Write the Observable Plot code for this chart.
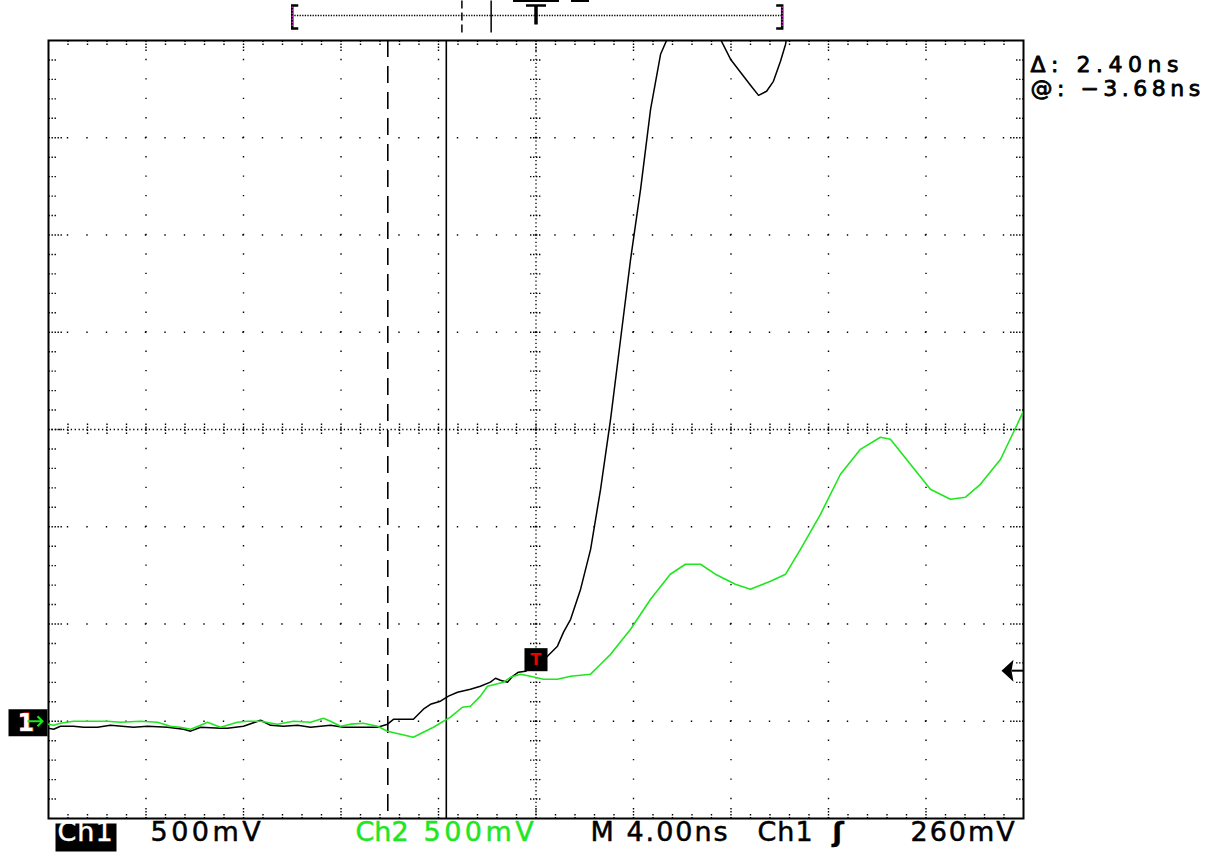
<!DOCTYPE html>
<html><head><meta charset="utf-8">
<script src="https://cdn.jsdelivr.net/npm/d3@7"></script>
<script src="https://cdn.jsdelivr.net/npm/@observablehq/plot@0.6"></script>
<style>
html,body{margin:0;padding:0;background:#fff;}
#chart svg{display:block;}
</style></head><body><div id="chart"></div>
<script>
// ---- data (time in ns, voltage in V) ----
const ch1Time = [-20,-19.79,-19.51,-18.98,-18.56,-17.99,-17.46,-16.51,-15.94,-15.12,-14.46,-14.17,-13.76,-12.94,-12.66,-12.00,-11.30,-10.89,-10.36,-9.78,-9.25,-8.43,-7.90,-7.20,-6.50,-6.09,-5.85,-5.03,-4.62,-4.33,-3.92,-3.59,-3.22,-2.69,-2.28,-1.87,-1.66,-1.46,-1.17,-0.96,-0.72,-0.43,-0.02,0.47,0.88,1.13,1.42,1.83,2.24,2.65,3.06,3.47,3.88,4.29,4.70,5.11,5.39,6.0,7.0,7.57,7.98,8.39,8.80,9.13,9.46,9.74,10.03,10.24,10.6];
const ch1Volt = [-0.036,-0.041,-0.026,-0.026,-0.031,-0.031,-0.021,-0.031,-0.026,-0.031,-0.041,-0.051,-0.031,-0.036,-0.036,-0.026,0.005,-0.021,-0.026,-0.021,-0.031,-0.021,-0.031,-0.031,-0.031,-0.015,0.010,0.010,0.062,0.087,0.103,0.129,0.149,0.165,0.180,0.201,0.221,0.211,0.201,0.231,0.252,0.257,0.293,0.334,0.386,0.458,0.524,0.679,0.884,1.193,1.553,1.964,2.375,2.735,3.146,3.429,3.51,3.9,3.9,3.506,3.404,3.337,3.270,3.218,3.239,3.290,3.393,3.481,3.8];
const ch2Time = [-20,-19.79,-19.51,-18.98,-17.58,-17.05,-16.23,-15.53,-15.00,-14.59,-14.17,-13.76,-13.48,-12.94,-12.25,-11.84,-11.30,-10.61,-9.95,-9.25,-8.72,-8.43,-8.02,-7.61,-7.08,-6.50,-6.09,-5.56,-5.03,-4.21,-3.51,-3.02,-2.69,-2.28,-1.99,-1.33,-1.05,-0.64,-0.23,0.31,0.88,1.42,2.24,2.65,3.06,3.88,4.70,5.51,6.13,6.75,7.36,8.18,8.79,9.62,10.24,10.85,11.67,12.49,13.31,14.13,14.54,15.36,16.18,17.00,17.62,18.23,19.06,20.0];
const ch2Volt = [-0.015,-0.021,-0.010,0.000,0.000,-0.005,0.000,-0.005,-0.026,-0.031,-0.041,-0.021,-0.005,-0.031,-0.005,0.000,0.000,-0.015,0.000,-0.005,0.015,0.000,-0.026,-0.015,-0.010,-0.026,-0.051,-0.067,-0.082,-0.031,0.021,0.072,0.077,0.129,0.180,0.201,0.226,0.242,0.231,0.216,0.216,0.231,0.242,0.293,0.344,0.473,0.627,0.756,0.807,0.807,0.756,0.704,0.679,0.720,0.756,0.884,1.064,1.270,1.398,1.460,1.450,1.321,1.193,1.141,1.152,1.218,1.347,1.594];
const cursorTimes = [-6.08, -3.68];          // dashed, solid
const triggerLevel = 0.26;                   // V
const groundLevel = 0;                       // V
const timeDomain = [-20, 20];                // 4.00 ns/div, 10 div
const voltDomain = [-0.5, 3.5];              // 500 mV/div, 8 div
const nsPerDiv = 4, vPerDiv = 0.5;
const centerTime = 0, centerVolt = 1.5;
const readoutLines = ["Δ: 2.40ns", "@: −3.68ns"];
const ch1Label = "Ch1", ch1Scale = "500mV";
const ch2Label = "Ch2", ch2Scale = "500mV";
const timebaseLabel = "M 4.00ns";
const trigSourceLabel = "Ch1", trigSlopeLabel = "ʃ", trigLevelLabel = "260mV";
const groundMarkerLabel = "1";
const recordSpan = [-20, 20.2];              // overview bracket (ns)

// ---- derived tables ----
const ch1 = ch1Time.map((t, i) => ({t, v: ch1Volt[i]}));
const ch2 = ch2Time.map((t, i) => ({t, v: ch2Volt[i]}));
const majorX = d3.range(timeDomain[0] + nsPerDiv, timeDomain[1], nsPerDiv).filter(t => Math.abs(t - centerTime) > 1e-6);
const majorY = d3.range(voltDomain[0] + vPerDiv, voltDomain[1], vPerDiv).filter(v => Math.abs(v - centerVolt) > 1e-6);
const minorX = d3.range(1, 50).map(k => timeDomain[0] + k * nsPerDiv / 5);
const minorY = d3.range(1, 40).map(k => voltDomain[0] + k * vPerDiv / 5);
const isMajorX = t => Math.abs(Math.round(t / nsPerDiv) * nsPerDiv - t) < 1e-6;
const isMajorY = v => Math.abs(Math.round((v - voltDomain[0]) / vPerDiv) * vPerDiv - (v - voltDomain[0])) < 1e-6;
const minorOnlyX = minorX.filter(t => !isMajorX(t)), majorOnX = minorX.filter(isMajorX);
const minorOnlyY = minorY.filter(v => !isMajorY(v)), majorOnY = minorY.filter(isMajorY);
const overview = t => t / 2;

const GREEN = "#1fe61f";
const seg = (x1, y1, x2, y2) => ({draw(c) { c.moveTo(x1, y1); c.lineTo(x2, y2); }});
const path = (pts, close) => ({draw(c) { c.moveTo(...pts[0]); pts.slice(1).forEach(p => c.lineTo(...p)); if (close) c.closePath(); }});
const rect = (x, y, w, h) => ({draw(c) { c.rect(x, y, w, h); }});
const tickStyle = {fill: "none", stroke: "#000", strokeWidth: 1.4, strokeDasharray: "1.4,1.6"};
const edgeTicks = [
  Plot.dot(minorOnlyX, {x: d => d, frameAnchor: "top", symbol: seg(0, 0, 0, 6), ...tickStyle}),
  Plot.dot(majorOnX, {x: d => d, frameAnchor: "top", symbol: seg(0, 0, 0, 12), ...tickStyle}),
  Plot.dot(minorOnlyX, {x: d => d, frameAnchor: "bottom", symbol: seg(0, 0, 0, -6), ...tickStyle}),
  Plot.dot(majorOnX, {x: d => d, frameAnchor: "bottom", symbol: seg(0, 0, 0, -12), ...tickStyle}),
  Plot.dot(minorOnlyY, {y: d => d, frameAnchor: "left", symbol: seg(0, 0, 8, 0), ...tickStyle}),
  Plot.dot(majorOnY, {y: d => d, frameAnchor: "left", symbol: seg(0, 0, 14, 0), ...tickStyle}),
  Plot.dot(minorOnlyY, {y: d => d, frameAnchor: "right", symbol: seg(0, 0, -8, 0), ...tickStyle}),
  Plot.dot(majorOnY, {y: d => d, frameAnchor: "right", symbol: seg(0, 0, -14, 0), ...tickStyle})
];
const txt = (s, dx, fill, extra = {}) => Plot.text([s], {frameAnchor: "bottom-left", textAnchor: "start", dx, dy: 22.5, fontSize: 27, fontFamily: "DejaVu Sans", fill, stroke: fill, strokeWidth: 0.5, ...extra});

const plot = Plot.plot({
  width: 1217, height: 853,
  marginLeft: 48, marginRight: 194, marginTop: 40, marginBottom: 35,
  x: {domain: timeDomain, axis: null},
  y: {domain: voltDomain, axis: null},
  style: {background: "white", overflow: "visible"},
  marks: [
    // dotted graticule
    Plot.ruleX(majorX, {stroke: "#000", strokeWidth: 1.4, strokeDasharray: "1.4,18.05", strokeDashoffset: 0.7}),
    Plot.ruleY(majorY, {stroke: "#000", strokeWidth: 1.4, strokeDasharray: "1.4,18.1", strokeDashoffset: 0.7}),
    // center cross (dense dots) with minor ticks
    Plot.ruleX([centerTime], {stroke: "#000", strokeWidth: 1.3, strokeDasharray: "1.3,2.59", strokeDashoffset: 0.65}),
    Plot.ruleY([centerVolt], {stroke: "#000", strokeWidth: 1.3, strokeDasharray: "1.3,2.6", strokeDashoffset: 0.65}),
    Plot.dot(minorX, {x: d => d, y: () => centerVolt, symbol: seg(0, -6, 0, 6), ...tickStyle}),
    Plot.dot(minorY, {y: d => d, x: () => centerTime, symbol: seg(-6, 0, 6, 0), ...tickStyle}),
    // frame edge ticks
    ...edgeTicks,
    // frame
    Plot.frame({stroke: "#000", strokeWidth: 2}),
    // cursors
    Plot.ruleX([cursorTimes[0]], {stroke: "#000", strokeWidth: 1.6, strokeDasharray: "17,9"}),
    Plot.ruleX([cursorTimes[1]], {stroke: "#000", strokeWidth: 1.6}),
    // traces
    Plot.line(ch1, {x: "t", y: "v", stroke: "#000", strokeWidth: 1.5, clip: true}),
    Plot.line(ch2, {x: "t", y: "v", stroke: GREEN, strokeWidth: 1.6, clip: true}),
    // trigger point marker
    Plot.dot([{t: centerTime, v: triggerLevel}], {x: "t", y: "v", dy: -11, symbol: "square", r: 13, fill: "#000"}),
    Plot.text([{t: centerTime, v: triggerLevel}], {x: "t", y: "v", dy: -11, text: () => "T", fill: "#e00", fontSize: 16, fontWeight: "bold", fontFamily: "DejaVu Sans"}),
    // trigger level arrow (right)
    Plot.dot([{v: triggerLevel}], {y: "v", frameAnchor: "right", symbol: path([[-22, 0], [-10, -11], [-12, 0], [-10, 11]], true), fill: "#000"}),
    Plot.dot([{v: triggerLevel}], {y: "v", frameAnchor: "right", symbol: seg(-12, 0, 0, 0), fill: "none", stroke: "#000", strokeWidth: 2}),
    // ground marker (left)
    Plot.dot([{v: groundLevel}], {y: "v", frameAnchor: "left", symbol: rect(-40, -12, 39, 27), fill: "#000"}),
    Plot.text([{v: groundLevel}], {y: "v", frameAnchor: "left", dx: -31, dy: 2, text: () => groundMarkerLabel, fill: "#fff", stroke: "#f22", strokeWidth: 1.2, paintOrder: "stroke", fontSize: 24, fontWeight: "bold", fontFamily: "DejaVu Sans"}),
    Plot.dot([{v: groundLevel}], {y: "v", frameAnchor: "left", symbol: {draw(c) { c.moveTo(-21, 0); c.lineTo(-6, 0); c.moveTo(-11, -5); c.lineTo(-6, 0); c.lineTo(-11, 5); }}, fill: "none", stroke: GREEN, strokeWidth: 2}),
    // record overview (top)
    Plot.ruleY([voltDomain[1]], {x1: overview(recordSpan[0]), x2: overview(recordSpan[1]), dy: -25, stroke: "#000", strokeWidth: 1.3, strokeDasharray: "1.3,1.3"}),
    Plot.dot([overview(recordSpan[0])], {x: d => d, frameAnchor: "top", symbol: path([[6, -35], [0, -35], [0, -12], [6, -12]]), fill: "none", stroke: "#000", strokeWidth: 2.5}),
    Plot.dot([overview(recordSpan[0])], {x: d => d, frameAnchor: "top", symbol: seg(0, -34, 0, -13), fill: "none", stroke: "#d020d0", strokeWidth: 1.5, strokeDasharray: "1.5,1.5"}),
    Plot.dot([overview(recordSpan[1])], {x: d => d, frameAnchor: "top", symbol: path([[-6, -35], [0, -35], [0, -12], [-6, -12]]), fill: "none", stroke: "#000", strokeWidth: 2.5}),
    Plot.dot([overview(recordSpan[1])], {x: d => d, frameAnchor: "top", symbol: seg(0, -34, 0, -13), fill: "none", stroke: "#d020d0", strokeWidth: 1.5, strokeDasharray: "1.5,1.5"}),
    Plot.dot([overview(cursorTimes[0])], {x: d => d, frameAnchor: "top", symbol: seg(0, -40, 0, -8), fill: "none", stroke: "#000", strokeWidth: 1.5, strokeDasharray: "8,4"}),
    Plot.dot([overview(cursorTimes[1])], {x: d => d, frameAnchor: "top", symbol: seg(0, -40, 0, -8), fill: "none", stroke: "#000", strokeWidth: 1.5}),
    Plot.dot([overview(centerTime)], {x: d => d, frameAnchor: "top", symbol: seg(-10, -35, 10, -35), fill: "none", stroke: "#000", strokeWidth: 2.5}),
    Plot.dot([overview(centerTime)], {x: d => d, frameAnchor: "top", symbol: seg(0, -35, 0, -16), fill: "none", stroke: "#000", strokeWidth: 3.5}),
    Plot.dot([overview(centerTime)], {x: d => d, frameAnchor: "top", symbol: seg(-23, -39.5, 23, -39.5), fill: "none", stroke: "#000", strokeWidth: 2}),
    Plot.dot([overview(centerTime)], {x: d => d, frameAnchor: "top", symbol: seg(35, -39.5, 53, -39.5), fill: "none", stroke: "#000", strokeWidth: 2}),
    // cursor readouts
    Plot.text([readoutLines[0]], {frameAnchor: "top-right", textAnchor: "start", lineAnchor: "top", dx: 7, dy: 16, fontSize: 22, fontFamily: "DejaVu Sans", fill: "#000", stroke: "#000", strokeWidth: 0.8}),
    Plot.text([readoutLines[1]], {frameAnchor: "top-right", textAnchor: "start", lineAnchor: "top", dx: 7, dy: 40, fontSize: 22, fontFamily: "DejaVu Sans", fill: "#000", stroke: "#000", strokeWidth: 0.8}),
    // bottom status line
    Plot.dot([0], {frameAnchor: "bottom-left", symbol: rect(7, 5, 61, 28), fill: "#000"}),
    txt(ch1Label, 9, "#fff"),
    txt(ch1Scale, 102, "#000"),
    txt(ch2Label, 307, GREEN),
    txt(ch2Scale, 375, GREEN),
    txt(timebaseLabel, 542, "#000"),
    txt(trigSourceLabel, 709, "#000"),
    txt(trigSlopeLabel, 784, "#000", {fontWeight: "bold"}),
    txt(trigLevelLabel, 862, "#000")
  ]
});
document.getElementById("chart").appendChild(plot);
// letter spacing to mimic the wide scope font
const spacing = new Map([
  [readoutLines[0], "5.5px"], [readoutLines[1], "4.5px"],
  [ch1Scale, "3.5px"], [timebaseLabel, "2px"], [trigLevelLabel, "2px"], [ch1Label, "1px"]
]);
d3.select(plot).selectAll("text").each(function() {
  const s = spacing.get(this.textContent);
  if (s) this.style.letterSpacing = s;
});
</script></body></html>
